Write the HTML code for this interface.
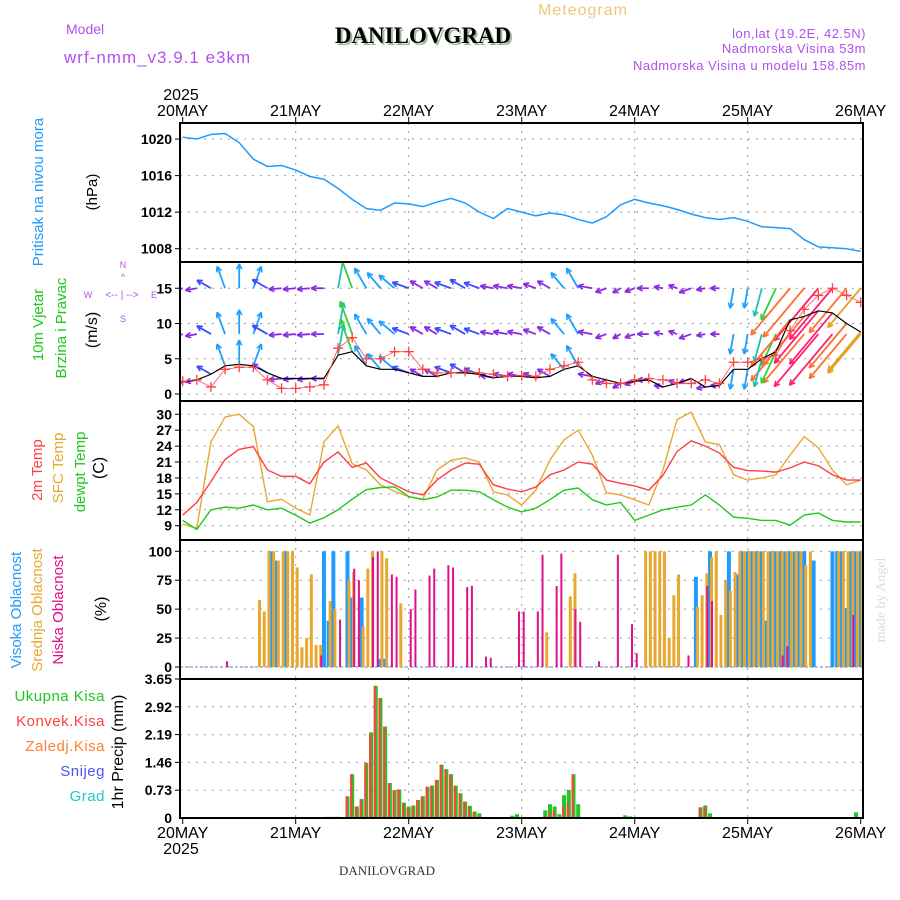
<!DOCTYPE html>
<html><head><meta charset="utf-8"><style>
html,body{margin:0;padding:0;background:#fff;}
svg{display:block;font-family:"Liberation Sans",sans-serif;}
</style></head><body>
<svg id="c" width="900" height="900" viewBox="0 0 900 900" xmlns="http://www.w3.org/2000/svg">
<text x="583" y="15" font-size="16" fill="#f0c878" text-anchor="middle" letter-spacing="1">Meteogram</text>
<text x="66" y="34" font-size="14" fill="#b050f0">Model</text>
<text x="64" y="63" font-size="17" fill="#b050f0" letter-spacing="1">wrf-nmm_v3.9.1 e3km</text>
<text x="425" y="45" font-size="23" font-weight="bold" fill="#9cba9c" text-anchor="middle" font-family="Liberation Serif,serif">DANILOVGRAD</text>
<text x="423" y="43" font-size="23" font-weight="bold" fill="#000" text-anchor="middle" font-family="Liberation Serif,serif">DANILOVGRAD</text>
<text x="866" y="38" font-size="13" fill="#b050f0" text-anchor="end" letter-spacing="0.5">lon,lat (19.2E, 42.5N)</text>
<text x="866" y="53" font-size="13" fill="#b050f0" text-anchor="end" letter-spacing="0.5">Nadmorska Visina 53m</text>
<text x="866" y="70" font-size="13" fill="#b050f0" text-anchor="end" letter-spacing="0.5">Nadmorska Visina u modelu 158.85m</text>
<text x="387" y="875" font-size="13" fill="#333" text-anchor="middle" font-family="Liberation Serif,serif">DANILOVGRAD</text>
<text transform="translate(885,600) rotate(-90)" font-size="14" fill="#d8dcd8" text-anchor="middle" font-family="Liberation Serif,serif">made by Angel</text>
<g id="g"></g>
</svg>
<script>
// ---- data (3-hourly, hours 0..144 from 20MAY 00) ----
const hours3 = [0,3,6,9,12,15,18,21,24,27,30,33,36,39,42,45,48,51,54,57,60,63,66,69,72,75,78,81,84,87,90,93,96,99,102,105,108,111,114,117,120,123,126,129,132,135,138,141,144];
const pressure = [1020.2,1020.0,1020.5,1020.6,1019.6,1017.8,1017.0,1017.1,1016.6,1015.9,1015.6,1014.6,1013.4,1012.4,1012.2,1013.0,1012.9,1012.6,1013.1,1013.5,1013.0,1012.0,1011.3,1012.4,1012.0,1011.6,1011.9,1011.7,1011.2,1010.8,1011.5,1012.8,1013.4,1013.0,1012.7,1012.3,1011.8,1011.4,1011.2,1011.4,1011.0,1010.4,1010.3,1010.2,1009.0,1008.2,1008.1,1008.0,1007.7];
const windSpeed = [1.7,2.0,2.8,4.0,4.2,4.0,3.0,2.2,2.2,2.2,2.2,5.5,6.0,4.0,3.5,3.5,3.0,2.5,2.5,3.0,3.0,2.8,2.3,2.5,2.5,2.3,2.5,3.5,4.0,2.5,2.0,1.5,1.8,2.0,1.0,1.5,2.2,1.0,1.2,3.5,3.5,5.0,6.0,10.5,11.0,11.8,11.5,10.0,8.8];
const windGust = [1.8,2.0,1.0,3.5,3.8,3.8,2.0,0.8,0.8,1.0,1.3,6.5,8.0,5.0,5.0,6.0,6.0,3.5,3.0,3.0,3.2,3.0,2.8,2.5,2.6,2.5,3.5,4.0,4.5,2.0,1.5,1.5,2.0,2.2,2.0,1.5,1.5,2.0,1.5,4.5,4.5,5.0,5.5,9.0,12.0,14.0,15.0,14.0,13.0];
const windDir = [250,260,300,340,0,20,300,265,265,265,270,10,340,330,320,310,290,300,300,290,300,290,280,280,280,290,300,320,330,280,250,240,250,270,280,290,250,260,270,190,190,195,205,220,220,220,220,220,220];
const temp2m = [11,13.4,17.3,21.5,23.4,23.9,19.5,18.3,18.3,16.9,21,22.9,20,20.8,18,16.7,15.4,14.8,17.6,19.5,20.8,20.6,16.7,15.9,15.4,16.3,18.6,19.5,21,20.6,17.6,17,16.5,15.7,18.5,23,25,24,22.7,20,19.4,19.3,19.1,19.9,21,20.3,18.6,17.6,17.6];
const tempSfc = [9.3,8.5,24.8,29.5,30,27.7,13.5,14,12.3,11,24.8,27.8,20.7,19.5,16.7,15.5,14.5,14,19.5,21.3,21.8,21,15.4,14.8,12.9,15.7,21.4,25.2,27,22.3,15.2,14.8,13.9,12.9,19.5,29,30.4,24.8,24.3,18.6,17.6,18,18.6,22.3,25.8,23.7,19.5,16.7,17.6];
const dewpt = [10,8.3,12,12.5,12.3,12.9,12,12.3,11,9.5,10.5,12,14,15.8,16.2,16.3,14.5,13.9,14.4,15.7,15.7,15.4,13.9,12.5,11.6,12.3,13.9,15.7,16.1,13.9,12.9,13.4,10,11,12,12.5,12.9,14.8,12.9,10.6,10.4,10,10,9.1,11,11.4,10,9.7,9.7];
// cloud cover (hour, %)
const highHours = [19,20,22,30,31,32,35,36,38,42,43,109,112,116,118,119,120,121,122,123,124,125,126,127,128,129,130,131,132,134,138,139,140,141,142,143,144];
const highVals  = [100,92,100,100,40,100,100,60,60,7,7,78,100,100,80,100,100,100,100,100,40,100,100,100,100,100,100,100,100,92,100,100,100,51,100,100,100];
const midHours = [16,17,18,19,20,21,22,23,24,25,26,27,28,29,31,32,35,36,38,39,40,42,43,46,77,82,83,98,99,100,101,102,103,104,105,109,110,111,112,113,114,115,116,117,118,119,120,121,122,123,124,125,126,127,128,129,130,131,132,133,139,140,141,142,143,144];
const midVals  = [58,48,100,100,92,100,100,100,86,17,25,80,19,19,57,50,75,82,35,85,100,100,94,55,30,61,81,100,100,100,100,100,25,62,80,52,62,81,95,100,45,75,66,82,100,100,100,100,100,100,100,100,100,100,100,100,100,100,88,100,100,100,100,100,100,100];
const lowHours = [9,29,33,36,37,40,41,44,45,48,49,52,53,56,57,60,61,64,65,71,72,75,76,79,80,83,84,88,92,95,96,107,111,112,127,128,142];
const lowVals  = [5,10,41,85,75,95,100,80,78,50,67,79,85,88,86,69,70,9,8,48,48,48,97,70,98,50,39,5,97,37,12,10,70,57,10,18,45];
// precipitation (hour, mm)
const precipHours = [31,32,33,35,36,37,38,39,40,41,42,43,44,45,46,47,48,49,50,51,52,53,54,55,56,57,58,59,60,61,62,63,70,71,77,78,79,80,81,82,83,84,94,95,110,111,112,143];
const precipTotal = [0.03,0.03,0.03,0.57,1.15,0.3,0.5,1.45,2.25,3.47,3.15,2.4,0.92,0.73,0.75,0.4,0.3,0.33,0.47,0.57,0.82,0.85,1.0,1.4,1.28,1.15,0.85,0.65,0.43,0.32,0.17,0.12,0.06,0.1,0.2,0.36,0.3,0.1,0.6,0.74,1.15,0.36,0.07,0.04,0.28,0.33,0.12,0.15];
const precipConv  = [0.03,0.02,0.03,0.57,1.15,0.3,0.45,1.45,2.2,3.47,3.15,2.4,0.9,0.73,0.75,0.4,0.25,0.3,0.47,0.57,0.82,0.85,1.0,1.4,1.28,1.15,0.85,0.65,0.43,0.3,0.15,0.05,0.0,0.0,0.05,0.15,0.2,0.0,0.3,0.4,1.15,0.0,0.0,0.0,0.28,0.3,0.0,0.0];
const dayLabels = ["20MAY","21MAY","22MAY","23MAY","24MAY","25MAY","26MAY"];
const pTicks = [1008,1012,1016,1020];
const wTicks = [0,5,10,15];
const tTicks = [9,12,15,18,21,24,27,30];
const cTicks = [0,25,50,75,100];
const rTicks = [0.73,1.46,2.19,2.92,3.65];

// ---- layout ----
const NS="http://www.w3.org/2000/svg";
const G=document.getElementById('g');
const L=180, R=863;
const X=h=>182.7+h*113/24;
const panels={p:[123,262],w:[262,401],t:[401,540],c:[540,679],r:[679,818]};
const yP=v=>248.7-(v-1008)*9.14;
const yW=v=>394-v*7.05;
const yT=v=>414.3-(v-30)*5.305;
const yC=v=>667-v*1.157;
const yR=v=>818-v*(139/3.65);
function el(tag,attrs,parent){const e=document.createElementNS(NS,tag);for(const k in attrs)e.setAttribute(k,attrs[k]);(parent||G).appendChild(e);return e;}
function txt(x,y,s,attrs){const e=el('text',Object.assign({x:x,y:y},attrs||{}));e.textContent=s;return e;}

const defs=el('defs',{});
for(const k in panels){const cp=el('clipPath',{id:'cl'+k},defs);el('rect',{x:L,y:panels[k][0],width:R-L,height:panels[k][1]-panels[k][0]},cp);}

for(const k in panels){
  const [t,b]=panels[k];
  for(let d=1;d<6;d++){
    const gl=el('line',{x1:X(d*24),x2:X(d*24),y1:t,y2:b,stroke:'#999','stroke-dasharray':'2,6','stroke-width':1});
    
    
  }
}
function hgrid(ticks,yf,fmt,name){
  ticks.forEach(v=>{
    const y=yf(v);
    const gl=el('line',{x1:L,x2:R,y1:y,y2:y,stroke:'#999','stroke-dasharray':'2,6','stroke-width':1});
    
    
    el('line',{x1:L-5,x2:L,y1:y,y2:y,stroke:'#000','stroke-width':1});
    const t=txt(L-8,y+5,fmt(v),{'font-size':14,'font-weight':'bold','text-anchor':'end'});
    
    
  });
}
hgrid(pTicks,yP,v=>String(v),'pressure');
hgrid(wTicks,yW,v=>String(v),'wind');
hgrid(tTicks,yT,v=>String(v),'temp');
hgrid(cTicks,yC,v=>String(v),'cloud');
hgrid(rTicks,yR,v=>v.toFixed(2),'precip');
{const t=txt(L-8,823,'0',{'font-size':14,'font-weight':'bold','text-anchor':'end'});

}

{const pl=el('polyline',{points:hours3.map((h,i)=>X(h)+','+yP(pressure[i])).join(' '),fill:'none',stroke:'#1e9bff','stroke-width':1.5,'clip-path':'url(#clp)'});

}

function windColor(s){
  if(s<2.6)return '#8a2be2'; if(s<3.3)return '#3a4cff'; if(s<4.6)return '#1ea0ff';
  if(s<6)return '#20c0b0'; if(s<8)return '#30d040'; if(s<10)return '#e8a020'; if(s<11.5)return '#ff7030'; return '#ff2070';
}
const wg=el('g',{'clip-path':'url(#clw)'});
[15,8.5,null].forEach(base=>{
  hours3.forEach((h,i)=>{
    const s=windSpeed[i], a=windDir[i]*Math.PI/180, len=Math.max(9,s*5.8);
    const x0=X(h), y0=yW(base===null?s:base);
    const x1=x0+Math.sin(a)*len, y1=y0-Math.cos(a)*len;
    const c=windColor(s);
    const ar=el('g',{},wg);
    
    
    el('line',{x1:x0,y1:y0,x2:x1,y2:y1,stroke:c,'stroke-width':1.8},ar);
    [0.45,-0.45].forEach(d=>{const b=a+Math.PI+d;el('line',{x1:x1,y1:y1,x2:x1+Math.sin(b)*6,y2:y1-Math.cos(b)*6,stroke:c,'stroke-width':1.6},ar);});
  });
});
{const sl=el('polyline',{points:hours3.map((h,i)=>X(h)+','+yW(windSpeed[i])).join(' '),fill:'none',stroke:'#000','stroke-width':1.2},wg);

}
{const gl=el('polyline',{points:hours3.map((h,i)=>X(h)+','+yW(windGust[i])).join(' '),fill:'none',stroke:'#ff5050','stroke-width':0.8},wg);

}
hours3.forEach((h,i)=>{
  const x=X(h),y=yW(windGust[i]);
  const m=el('path',{d:`M${x-5},${y}H${x+5}M${x},${y-5}V${y+5}`,stroke:'#ff4040','stroke-width':1.3},wg);
  
  
});

[[tempSfc,'#e8a830','sfc-temp-line'],[temp2m,'#ff4040','temp-2m-line'],[dewpt,'#20c820','dewpoint-line']].forEach(([arr,c,n])=>{
  const l=el('polyline',{points:hours3.map((h,i)=>X(h)+','+yT(arr[i])).join(' '),fill:'none',stroke:c,'stroke-width':1.4,'clip-path':'url(#clt)'});
  
  
});

el('line',{x1:L,x2:R,y1:yC(0),y2:yC(0),stroke:'#9ad','stroke-width':1.5,'stroke-dasharray':'3,2'});
[[highHours,highVals,'#1e9bff',-2,4,'high-cloud-bar'],[midHours,midVals,'#e8a830',0,3,'mid-cloud-bar'],[lowHours,lowVals,'#e0108a',1,2,'low-cloud-bar']].forEach(([hs,vs,c,off,w,n])=>{
  hs.forEach((h,i)=>{
    const y=yC(vs[i]);
    const b=el('rect',{x:X(h)+off,y:y,width:w,height:yC(0)-y,fill:c,'clip-path':'url(#clc)'});
    
    
  });
});

precipHours.forEach((h,i)=>{
  const y=yR(precipTotal[i]);
  const b=el('rect',{x:X(h)-2,y:y,width:4,height:yR(0)-y,fill:'#20c820'});
  
  
  const y2=yR(precipConv[i]);
  const r=el('rect',{x:X(h)-2,y:y2,width:2.2,height:yR(0)-y2,fill:'#ff4040'});
  
  
});

for(const k in panels){
  const [t,b]=panels[k];
  const f=el('rect',{x:L,y:t,width:R-L,height:b-t,fill:'none',stroke:'#000','stroke-width':2});
  
  
}
dayLabels.forEach((s,d)=>{
  const x=X(d*24);
  el('line',{x1:x,x2:x,y1:117,y2:123,stroke:'#000'});
  el('line',{x1:x,x2:x,y1:818,y2:824,stroke:'#000'});
  const t1=txt(x,116,s,{'font-size':16,'text-anchor':'middle'});
  
  
  const t2=txt(x,838,s,{'font-size':16,'text-anchor':'middle'});
  
  
});
</script>
<script>
(function(){
const svg=document.getElementById('c');
const NS="http://www.w3.org/2000/svg";
function T(x,y,s,attrs,name){const e=document.createElementNS(NS,'text');e.setAttribute('x',x);e.setAttribute('y',y);for(const k in attrs)e.setAttribute(k,attrs[k]);e.textContent=s;


svg.appendChild(e);return e;}
function V(x,y,s,c,name,fs){return T(0,0,s,{transform:`translate(${x},${y}) rotate(-90)`,'font-size':fs||15,fill:c,'text-anchor':'middle'},name);}
T(181,100,'2025',{'font-size':16,'text-anchor':'middle'},'year-top');
T(181,854,'2025',{'font-size':16,'text-anchor':'middle'},'year-bottom');
V(43,192,'Pritisak na nivou mora','#1e9bff','pressure-axis-title');
V(97,192,'(hPa)','#000','pressure-unit');
V(43,325,'10m Vjetar','#20c820','wind-axis-title');
V(66,328,'Brzina i Pravac','#20c820','wind-axis-subtitle');
V(97,330,'(m/s)','#000','wind-unit',16);
T(123,268,'N',{'font-size':9,fill:'#b050f0','text-anchor':'middle'},'compass-n');
T(123,280,'^',{'font-size':9,fill:'#b050f0','text-anchor':'middle'},'compass-arrow');
T(122,298,'<-- | -->',{'font-size':10,fill:'#b050f0','text-anchor':'middle'},'compass-we');
T(88,298,'W',{'font-size':9,fill:'#b050f0','text-anchor':'middle'},'compass-w');
T(154,298,'E',{'font-size':9,fill:'#b050f0','text-anchor':'middle'},'compass-e');
T(123,322,'S',{'font-size':9,fill:'#b050f0','text-anchor':'middle'},'compass-s');
V(42,470,'2m Temp','#ff4040','temp-2m-title');
V(63,468,'SFC Temp','#e8a830','sfc-temp-title');
V(85,472,'dewpt Temp','#20c820','dewpt-title');
V(104,468,'(C)','#000','temp-unit',16);
V(21,610,'Visoka Oblacnost','#1e9bff','high-cloud-title');
V(42,610,'Srednja Oblacnost','#e8a830','mid-cloud-title');
V(63,610,'Niska Oblacnost','#e0108a','low-cloud-title');
V(106,609,'(%)','#000','cloud-unit',16);
T(105,701,'Ukupna Kisa',{'font-size':15,fill:'#20c820','text-anchor':'end','letter-spacing':'0.5'},'legend-total-precip');
T(105,726,'Konvek.Kisa',{'font-size':15,fill:'#ff4040','text-anchor':'end','letter-spacing':'0.5'},'legend-convective-precip');
T(105,751,'Zaledj.Kisa',{'font-size':15,fill:'#ff7f30','text-anchor':'end','letter-spacing':'0.5'},'legend-freezing-rain');
T(105,776,'Snijeg',{'font-size':15,fill:'#5050ff','text-anchor':'end','letter-spacing':'0.5'},'legend-snow');
T(105,801,'Grad',{'font-size':15,fill:'#20c8c8','text-anchor':'end','letter-spacing':'0.5'},'legend-hail');
V(123,752,'1hr Precip (mm)','#000','precip-axis-title',16);
})();
</script>
</body></html>
